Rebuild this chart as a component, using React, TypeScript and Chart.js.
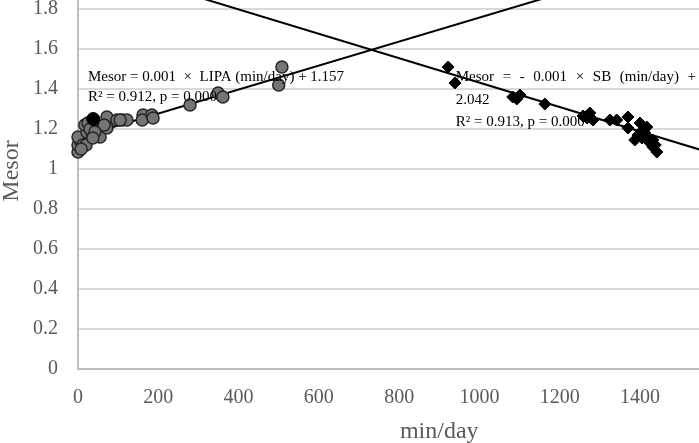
import React, { useEffect, useRef } from "react";
import { Chart, registerables } from "chart.js";
Chart.register(...registerables);

// LIPA (light physical activity) vs Mesor
const lipaX = [0, 0, 5, 0, 12, 20, 22, 17, 25, 35, 47, 55, 55, 72, 72, 97, 110, 122, 162, 160, 184, 187, 279, 349, 361, 500, 508, 8, 30, 65, 42, 37, 105];
const lipaY = [1.085, 1.12, 1.145, 1.16, 1.12, 1.12, 1.185, 1.22, 1.23, 1.18, 1.17, 1.195, 1.16, 1.205, 1.26, 1.245, 1.245, 1.245, 1.27, 1.245, 1.27, 1.255, 1.32, 1.38, 1.36, 1.42, 1.51, 1.10, 1.20, 1.22, 1.185, 1.155, 1.245];
const lipaHiX = [38];
const lipaHiY = [1.25];

// SB (sedentary behaviour) vs Mesor
const sbX = [922, 939, 1083, 1101, 1093, 1163, 1258, 1275, 1283, 1268, 1325, 1342, 1370, 1370, 1400, 1395, 1407, 1417, 1420, 1425, 1432, 1442, 1432, 1405, 1387, 1412, 1438];
const sbY = [1.51, 1.43, 1.36, 1.37, 1.35, 1.325, 1.265, 1.28, 1.245, 1.255, 1.245, 1.245, 1.26, 1.205, 1.23, 1.17, 1.195, 1.21, 1.155, 1.13, 1.145, 1.085, 1.11, 1.155, 1.145, 1.18, 1.12];

// fitted lines [intercept, slope]
const lipaFit = [1.157, 0.0006];
const sbFit = [2.042, -0.00061];
const fitRange = [0, 1600];

const xTicks = [0, 200, 400, 600, 800, 1000, 1200, 1400];
const yTicks = [0, 0.2, 0.4, 0.6, 0.8, 1, 1.2, 1.4, 1.6, 1.8];

const lipaText = ["Mesor = 0.001  \u00d7  LIPA (min/day) + 1.157", "R\u00b2 = 0.912, p = 0.000"];
const sbText = ["Mesor = - 0.001 \u00d7 SB (min/day) +", "2.042", "R\u00b2 = 0.913, p = 0.000"];
const xTitle = "min/day";
const yTitle = "Mesor";

const SERIF = '"Liberation Serif", "Times New Roman", serif';

export default function App() {
  const ref = useRef<HTMLCanvasElement>(null);
  useEffect(() => {
    const canvas = ref.current;
    if (!canvas) return;
    const toPts = (xs: number[], ys: number[]) => xs.map((x, i) => ({ x, y: ys[i] }));
    const fitPts = (f: number[]) => fitRange.map((x) => ({ x, y: f[0] + f[1] * x }));

    const justify = (ctx: any, text: string, x0: number, x1: number, y: number) => {
      const words = text.split(" ");
      const widths = words.map((w) => ctx.measureText(w).width);
      const total = widths.reduce((a, b) => a + b, 0);
      const gap = (x1 - x0 - total) / (words.length - 1);
      let x = x0;
      words.forEach((w, i) => {
        ctx.fillText(w, x, y);
        x += widths[i] + gap;
      });
    };

    const textPlugin = {
      id: "texts",
      afterDatasetsDraw(chart: any) {
        const { ctx, scales, chartArea } = chart;
        const xs = scales.x, ys = scales.y;
        ctx.save();
        ctx.fillStyle = "#000";
        ctx.font = `15px ${SERIF}`;
        ctx.textBaseline = "middle";
        ctx.textAlign = "left";
        const lx = xs.getPixelForValue(25);
        ctx.fillText(lipaText[0], lx, ys.getPixelForValue(1.46));
        ctx.fillText(lipaText[1], lx, ys.getPixelForValue(1.36));
        const sx = xs.getPixelForValue(941);
        justify(ctx, sbText[0], sx, chartArea.right - 3, ys.getPixelForValue(1.46));
        ctx.fillText(sbText[1], sx, ys.getPixelForValue(1.345));
        ctx.fillText(sbText[2], sx, ys.getPixelForValue(1.235));
        // axis titles
        ctx.fillStyle = "#595959";
        ctx.font = `24px ${SERIF}`;
        ctx.textAlign = "center";
        ctx.fillText(xTitle, xs.getPixelForValue(900), 432);
        ctx.translate(12, ys.getPixelForValue(0.99));
        ctx.rotate(-Math.PI / 2);
        ctx.fillText(yTitle, 0, 0);
        ctx.restore();
      },
    };

    const chart = new Chart(canvas, {
      type: "scatter",
      data: {
        datasets: [
          {
            type: "line",
            data: fitPts(lipaFit),
            borderColor: "#000",
            borderWidth: 2,
            pointRadius: 0,
            fill: false,
            order: 1,
          } as any,
          {
            type: "line",
            data: fitPts(sbFit),
            borderColor: "#000",
            borderWidth: 2,
            pointRadius: 0,
            fill: false,
            order: 1,
          } as any,
          {
            data: toPts(lipaX, lipaY),
            pointRadius: 6,
            pointBackgroundColor: "#757575",
            pointBorderColor: "#262626",
            pointBorderWidth: 1.5,
            clip: false,
            order: 0,
          },
          {
            data: toPts(lipaHiX, lipaHiY),
            pointRadius: 6.5,
            pointBackgroundColor: "#000",
            pointBorderColor: "#000",
            pointBorderWidth: 1,
            clip: false,
            order: -1,
          },
          {
            data: toPts(sbX, sbY),
            pointStyle: "rectRot",
            pointRadius: 6,
            pointBackgroundColor: "#000",
            pointBorderColor: "#000",
            pointBorderWidth: 1,
            clip: false,
            order: 0,
          },
        ],
      },
      plugins: [textPlugin],
      options: {
        animation: false,
        responsive: true,
        maintainAspectRatio: false,
        layout: { padding: 0, autoPadding: false },
        plugins: { legend: { display: false }, tooltip: { enabled: false } },
        scales: {
          x: {
            type: "linear",
            min: 0,
            max: 1547,
            afterBuildTicks: (s: any) => {
              s.ticks = xTicks.map((v) => ({ value: v }));
            },
            afterFit: (s: any) => {
              s.height = 74;
              s.paddingLeft = 0;
              s.paddingRight = 0;
            },
            grid: { display: false, drawTicks: false },
            border: { display: true, color: "#bfbfbf", width: 2 },
            ticks: {
              padding: 17,
              color: "#595959",
              font: { family: SERIF, size: 20 },
              callback: (v: any) => String(v),
              maxRotation: 0,
            },
          },
          y: {
            type: "linear",
            min: 0,
            max: 1.845,
            afterBuildTicks: (s: any) => {
              s.ticks = yTicks.map((v) => ({ value: v }));
            },
            afterFit: (s: any) => {
              s.width = 78;
              s.paddingTop = 0;
              s.paddingBottom = 0;
            },
            grid: { color: "#d9d9d9", lineWidth: 2, drawTicks: false },
            border: { display: true, color: "#bfbfbf", width: 2 },
            ticks: {
              padding: 20,
              color: "#595959",
              font: { family: SERIF, size: 20 },
              callback: (v: any) => String(Math.round(Number(v) * 10) / 10),
            },
          },
        },
      },
    } as any);
    return () => chart.destroy();
  }, []);
  return (
    <div style={{ position: "fixed", left: 0, top: 0, width: 699, height: 443, background: "#fff" }}>
      <canvas ref={ref} />
    </div>
  );
}
